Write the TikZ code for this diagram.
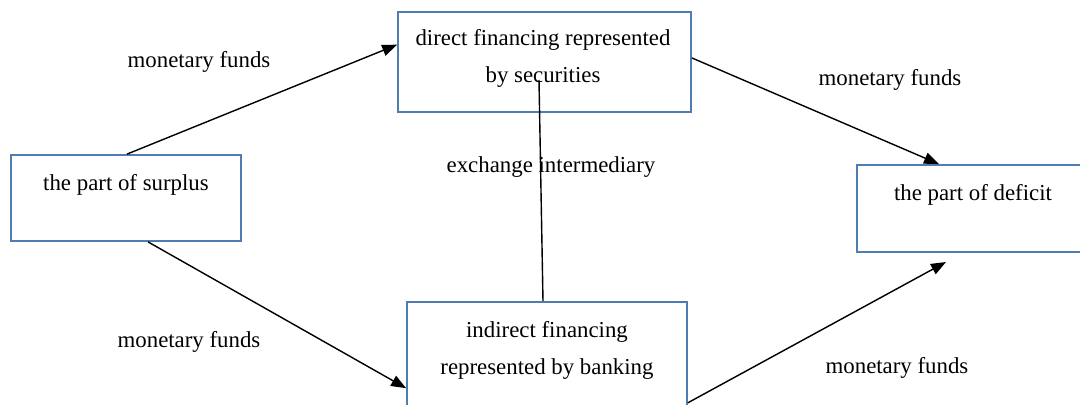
\documentclass[tikz,border=0pt]{standalone}
\usepackage{fontspec}
\setmainfont{Liberation Serif}
\usetikzlibrary{arrows.meta,calc}
\definecolor{boxblue}{HTML}{4F7DB0}
\tikzset{
    box/.style={draw=boxblue, line width=1pt, rectangle, inner sep=0pt},
    txt/.style={font=\fontsize{13}{21}\selectfont, align=center, inner sep=0pt},
    flow/.style={-{Triangle[length=8.5pt,width=6.5pt]}, line width=0.8pt, black},
}
\begin{document}
\begin{tikzpicture}[x=0.02cm, y=-0.02cm]
            \useasboundingbox (0, 0) rectangle (1080, 405);
            \clip (0, 0) rectangle (1080, 405);
            % boxes
            \node[box, minimum width=230*0.02cm, minimum height=86*0.02cm] (surplus) at (126, 198) {};
            \node[box, minimum width=293*0.02cm, minimum height=100*0.02cm] (direct) at (544.5, 62) {};
            \node[box, minimum width=280*0.02cm, minimum height=120*0.02cm] (indirect) at (547, 362) {};
            \node[box, minimum width=240*0.02cm, minimum height=87*0.02cm] (deficit) at (977, 208.5) {};
            % texts in the boxes
            \node[txt] (surplus-text) at (126, 185) {the part of surplus};
            \node[txt] (direct-text) at (543, 58) {direct financing represented\\by securities};
            \node[txt] (indirect-text) at (547, 350) {indirect financing\\represented by banking};
            \node[txt] (deficit-text) at (973, 195) {the part of deficit};
            % labels
            \node[txt] (fund-a) at (199, 62) {monetary funds};
            \node[txt] (fund-b) at (189, 342) {monetary funds};
            \node[txt] (fund-c) at (890, 80) {monetary funds};
            \node[txt] (fund-d) at (897, 368) {monetary funds};
            \node[txt] (exchange) at (551, 167) {exchange intermediary};
            % connectors
            \coordinate (sec) at (539, 80);
            \coordinate (below-deficit) at (946, 262);
            \draw[line width=0.8pt] (sec) -- ([xshift=-4*0.02cm]indirect.north);
            \draw[flow] ([xshift=1*0.02cm]surplus.north) -- ($(direct.west)!0.34!(direct.north west)$);
            \draw[flow] ([xshift=22*0.02cm]surplus.south) -- ($(indirect.west)!0.43!(indirect.south west)$);
            \draw[flow] ($(direct.east)!0.08!(direct.north east)$) -- ([xshift=-38*0.02cm]deficit.north);
            \draw[flow] ($(indirect.east)!0.67!(indirect.south east)$) -- (below-deficit);
        \end{tikzpicture}
\end{document}
